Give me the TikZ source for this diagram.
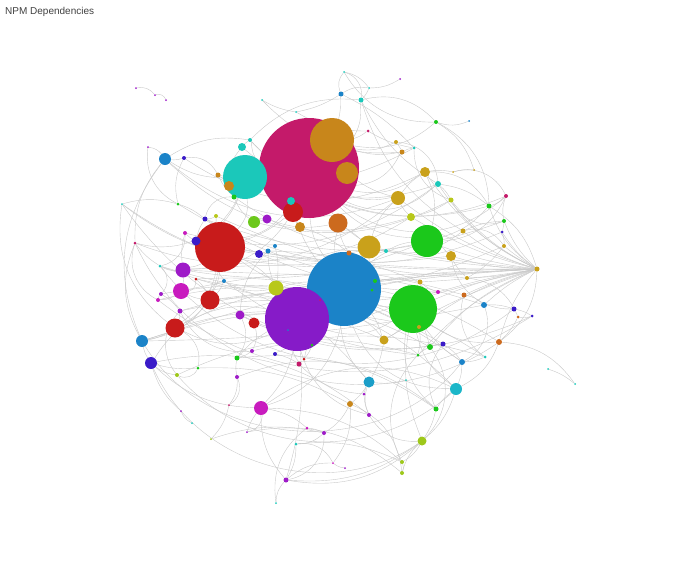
\documentclass[tikz,border=0pt]{standalone}
\usepackage{fontspec}
\setmainfont{Liberation Sans}
\usetikzlibrary{backgrounds}
\definecolor{npmpink}{HTML}{C41A6A}
\definecolor{npmochre}{HTML}{C8861B}
\definecolor{npmteal}{HTML}{1BC8BA}
\definecolor{npmred}{HTML}{C81B1B}
\definecolor{npmblue}{HTML}{1B83C8}
\definecolor{npmpurple}{HTML}{861BC8}
\definecolor{npmviolet}{HTML}{9E1BC8}
\definecolor{npmgreen}{HTML}{1BC81B}
\definecolor{npmgold}{HTML}{C9A11B}
\definecolor{npmbrown}{HTML}{CC6A1E}
\definecolor{npmlime}{HTML}{6CC81B}
\definecolor{npmolive}{HTML}{B8C81B}
\definecolor{npmmagenta}{HTML}{C81BBE}
\definecolor{npmindigo}{HTML}{3A1BC8}
\definecolor{npmcyan}{HTML}{1BB6C8}
\definecolor{npmsky}{HTML}{1B9EC8}
\definecolor{npmyg}{HTML}{9EC81B}
\tikzset{
  dot/.style={circle, fill=#1, draw=none, inner sep=0pt},
  link/.style={draw=black!21, line width=0.4pt},
  title/.style={font=\fontsize{10}{12}\selectfont, text=black!75, inner sep=0pt},
}

\begin{document}
\begin{tikzpicture}[x=1pt, y=-1pt]
  \useasboundingbox (0,0) rectangle (700,560);
  % Title
  \node[title, anchor=base west] (title) at (5,14) {NPM Dependencies};
  % Hubs
  \node[dot=npmpink, minimum size=100pt] (pink) at (309,168) {};
  \node[dot=npmochre, minimum size=44pt] (ochre) at (332,140) {};
  \node[dot=npmochre, minimum size=22pt] (ochreSide) at (347,173) {};
  \node[dot=npmteal, minimum size=44pt] (teal) at (245,177) {};
  \node[dot=npmred, minimum size=20pt] (redTop) at (293,212) {};
  \node[dot=npmbrown, minimum size=19pt] (brown) at (338,223) {};
  \node[dot=npmred, minimum size=50pt] (red) at (220,247) {};
  \node[dot=npmgold, minimum size=23pt] (gold) at (369,247) {};
  \node[dot=npmgreen, minimum size=32pt] (greenTop) at (427,241) {};
  \node[dot=npmblue, minimum size=74pt] (blue) at (344,289) {};
  \node[dot=npmpurple, minimum size=64pt] (violet) at (297,319) {};
  \node[dot=npmgreen, minimum size=48pt] (green) at (413,309) {};
  % Small packages
  \foreach \n/\x/\y/\col/\sz in {
    1/341/94/npmblue/5, 2/361/100/npmteal/5, 3/262/100/npmteal/2, 4/344/72/npmteal/2,
    5/369/88/npmteal/2, 6/436/122/npmgreen/4, 7/396/142/npmgold/4, 8/402/152/npmochre/5,
    9/414/148/npmteal/3, 10/368/131/npmpink/3, 11/250/140/npmteal/4, 12/296/112/npmteal/2,
    13/400/79/npmviolet/2, 14/218/175/npmochre/5, 15/234/197/npmgreen/5, 16/205/219/npmindigo/5,
    17/216/216/npmolive/4, 18/178/204/npmgreen/3, 19/135/243/npmpink/3, 20/185/233/npmmagenta/4,
    21/160/266/npmteal/3, 22/158/300/npmmagenta/4, 23/161/294/npmviolet/4, 24/180/311/npmviolet/5,
    25/224/281/npmblue/4, 26/196/241/npmindigo/9, 27/268/251/npmblue/5, 28/275/246/npmblue/4,
    29/237/358/npmgreen/5, 30/252/351/npmviolet/4, 31/275/354/npmindigo/4, 32/299/364/npmpink/5,
    33/177/375/npmyg/4, 34/237/377/npmviolet/4, 35/198/368/npmgreen/3, 36/196/279/npmred/3,
    37/304/359/npmred/3, 38/307/428/npmmagenta/3, 39/324/433/npmviolet/4, 40/369/415/npmviolet/4,
    41/364/394/npmviolet/3, 42/286/480/npmviolet/5, 43/402/462/npmyg/4, 44/402/473/npmyg/4,
    45/436/409/npmgreen/5, 46/418/355/npmgreen/3, 47/430/347/npmgreen/6, 48/443/344/npmindigo/5,
    49/462/362/npmblue/6, 50/350/404/npmochre/6, 51/489/206/npmgreen/5, 52/451/200/npmolive/5,
    53/438/184/npmteal/6, 54/463/231/npmgold/5, 55/451/256/npmgold/10, 56/420/282/npmgold/5,
    57/386/251/npmteal/4, 58/349/253/npmbrown/5, 59/438/292/npmmagenta/4, 60/464/295/npmbrown/5,
    61/467/278/npmgold/4, 62/484/305/npmblue/6, 63/514/309/npmindigo/5, 64/499/342/npmbrown/6,
    65/485/357/npmteal/3, 66/506/196/npmpink/4, 67/504/221/npmgreen/4, 68/504/246/npmgold/4,
    69/537/269/npmgold/5, 70/375/281/npmgreen/4, 71/419/327/npmgold/4, 72/184/158/npmindigo/4,
    73/122/204/npmteal/2, 74/155/95/npmviolet/2, 75/548/369/npmteal/2, 76/575/384/npmteal/2,
    77/411/217/npmolive/8, 78/425/172/npmgold/10, 79/296/444/npmteal/3, 80/276/503/npmteal/2,
    81/229/405/npmpink/2, 82/333/463/npmmagenta/2, 83/453/172/npmgold/2, 84/474/170/npmgold/2,
    85/502/232/npmindigo/3, 86/532/316/npmindigo/3, 87/518/317/npmbrown/3, 88/211/439/npmyg/2,
    89/148/147/npmviolet/2, 90/166/100/npmviolet/2, 91/398/198/npmgold/14, 92/369/382/npmsky/11,
    93/456/389/npmcyan/12, 94/422/441/npmyg/9, 95/261/408/npmmagenta/14, 96/384/340/npmgold/9,
    97/165/159/npmblue/12, 98/142/341/npmblue/12, 99/151/363/npmindigo/12, 100/240/315/npmviolet/9,
    101/254/323/npmred/11, 102/259/254/npmindigo/8, 103/242/147/npmteal/8, 104/291/201/npmteal/8,
    105/300/227/npmochre/10, 106/254/222/npmlime/12, 107/267/219/npmviolet/9, 108/229/186/npmochre/10,
    109/183/270/npmviolet/15, 110/181/291/npmmagenta/16, 111/210/300/npmred/19, 112/175/328/npmred/19,
    113/276/288/npmolive/15, 114/181/411/npmviolet/2, 115/192/423/npmteal/2, 116/247/432/npmviolet/2,
    117/345/468/npmviolet/2, 118/406/380/npmteal/2, 119/330/160/npmochre/2, 120/290/155/npmpink/2,
    121/360/318/npmblue/3, 122/372/290/npmgreen/3, 123/320/300/npmpink/2, 124/288/330/npmblue/2,
    125/312/345/npmgreen/3, 126/469/121/npmblue/2, 127/136/88/npmviolet/2}
    \node[dot=\col, minimum size=\sz pt] (s\n) at (\x,\y) {};
  % Dependencies
  \begin{scope}[on background layer]
    % fan into the right-hand package
    \foreach \dst/\bnd in {s55/8, s54/10, s61/5, s60/-5, s56/3, greenTop/6, green/-6, s62/-8,
      s68/4, s67/12, s53/15, s57/4, gold/2, s59/-3, s71/-10, s47/-14, blue/-2, s64/-12,
      s85/10, s91/10, s77/8, s51/18, s109/3, red/4, s26/6, s111/-2, s98/-8, s70/-4, s96/-6,
      s78/14, s52/12, s121/-3, s46/-12}
      \draw[link] (s69) to[bend left=\bnd] (\dst);
    % outer ring
    \foreach \src/\dst/\bnd in {s11/s2/25, s2/s6/30, s6/s51/30, s51/s69/20, s69/s64/25,
      s64/s93/20, s93/s94/15, s94/s42/25, s42/s95/20, s95/s99/20, s99/s98/10, s98/s19/25,
      s19/s97/20, s97/s11/20, s98/s49/-55, s99/s94/-50, s33/s93/-45, s19/s64/-50,
      s73/s112/-30, s97/s98/-30, s76/s64/-25, s75/s76/10, s74/s90/40, s127/s74/30,
      s4/s2/40, s1/s5/20, s1/s4/30, s4/s5/20, s5/s2/10, s13/s5/15, s12/s3/10, s12/s1/-10,
      s4/s6/-30, s126/s6/20, s80/s42/20, s21/s63/-45, s73/s86/-40, s22/s86/-35}
      \draw[link] (\src) to[bend left=\bnd] (\dst);
    % hubs
    \foreach \src/\dst/\bnd in {pink/red/20, pink/blue/-15, pink/greenTop/-20, pink/gold/-10,
      pink/teal/10, pink/s91/-15, pink/s78/-25, pink/s109/30, pink/s2/-20, pink/s1/-10,
      pink/s11/20, teal/red/25, teal/s97/15, teal/s26/20, red/blue/-15, red/violet/15,
      red/s112/20, red/s109/10, red/s111/10, blue/green/-10, blue/greenTop/15, blue/s96/10,
      blue/s92/-20, violet/green/-25, violet/s95/15, violet/s42/10, violet/s29/-10,
      violet/s112/25, green/s93/-20, green/s94/-15, green/s49/-10, greenTop/s78/-20,
      greenTop/s51/-15, greenTop/s55/10, gold/s91/15, gold/s58/5, gold/s57/-5, brown/gold/5,
      brown/blue/-10, redTop/red/10, redTop/blue/-10, ochre/s7/-20, ochre/s8/-15,
      ochreSide/s91/-10, s113/blue/10, s113/s27/10, blue/s59/-10, blue/s70/15,
      violet/s31/10, violet/s113/10, green/s46/10, green/s47/5, pink/s53/-35, pink/s66/-40,
      teal/s19/40, red/s98/35, violet/s99/-35, blue/s93/-35, green/s64/-20, greenTop/s66/-30,
      gold/s54/-25, ochre/s6/-25, pink/s8/-30, blue/s95/30, violet/s40/-30, green/s45/-30}
      \draw[link] (\src) to[bend left=\bnd] (\dst);
    % inner packages
    \foreach \src/\dst/\bnd in {s26/s20/10, s26/s16/10, s20/s109/-10, s109/s110/10,
      s110/s111/-10, s111/s112/10, s112/s98/10, s109/s21/15, s21/s19/10, s22/s23/20,
      s23/s24/10, s24/s112/10, s110/s22/15, s36/s111/10, s25/s111/10, s25/red/10,
      s27/s102/5, s28/s113/10, s102/s26/-15, s100/s101/10, s100/violet/5, s101/s30/20,
      s30/s29/10, s31/s32/10, s32/violet/10, s37/blue/10, s34/s29/10, s35/s99/10,
      s33/s99/15, s34/s81/20, s81/s88/15, s95/s38/15, s38/s39/10, s39/s79/20, s79/s42/15,
      s40/s41/10, s41/s92/10, s92/s50/10, s50/s39/15, s92/s40/-20, s50/s82/20, s82/s42/-20,
      s43/s44/20, s44/s94/15, s43/s94/-15, s45/s94/10, s45/s93/10, s46/s47/10, s47/s48/10,
      s48/s49/10, s49/s93/10, s96/green/-10, s96/s92/10, s71/green/10, s56/green/10,
      s59/s56/10, s60/s62/15, s62/s63/10, s63/s86/10, s86/s87/15, s87/s64/10, s65/s49/10,
      s61/s55/10, s54/s67/10, s67/s85/10, s85/s68/10, s68/s61/10, s66/s51/15, s66/s67/-15,
      s51/s53/-15, s53/s52/10, s52/s77/10, s77/s91/10, s91/s78/10, s78/s83/10, s83/s84/10,
      s84/s6/-20, s7/s8/10, s8/s9/10, s9/s10/10, s10/ochre/10, s57/greenTop/10, s70/gold/10,
      s70/s56/10, s58/brown/10, s104/redTop/10, s105/redTop/10, s105/s58/10, s106/s107/20,
      s106/s15/15, s107/brown/-15, s15/s14/10, s14/s108/10, s108/s103/20, s103/s11/10,
      s17/s16/15, s18/s16/10, s18/s72/20, s72/s97/10, s89/s97/20, s73/s18/15,
      s100/s27/20, s113/s25/20, s114/s99/15, s115/s114/20, s116/s95/10, s117/s82/15,
      s118/s92/10, s121/s96/10, s122/s70/10, s124/s100/10, s125/s37/10,
      s7/s53/40, s9/s52/-35, s78/s51/30, s83/s66/40, s52/s67/-40, s54/s68/35, s55/s63/-40,
      s61/s87/30, s60/s65/-35, s62/s49/40, s48/s45/-30, s47/s94/40, s46/s43/-35,
      s40/s94/-30, s50/s44/30, s39/s42/40, s38/s80/-30, s79/s82/35, s95/s116/40,
      s81/s34/-40, s35/s33/45, s29/s100/-30, s30/s24/35, s23/s21/-45, s22/s19/40,
      s110/s36/-40, s111/s25/35, s26/s17/-40, s16/s15/40, s14/s72/-35, s18/s89/35,
      s20/s21/40, s24/s33/-40, s112/s35/35}
      \draw[link] (\src) to[bend left=\bnd] (\dst);
    % long dependencies across the graph
    \foreach \src/\dst/\bnd in {s97/s91/-30, s21/s59/-15, s73/s77/-35, s26/s55/-10,
      s109/s60/10, s20/s53/-25, s16/s67/-20, s36/s71/15, s24/s65/25, s23/s48/20,
      s112/s96/20, s33/s46/20, s99/s40/25, s35/s50/15, s98/s71/15, s29/s45/20, s95/s43/20,
      s88/s39/15, s19/s91/-30, s73/s57/-25, s97/s77/-30, s14/s9/-20, s103/s53/-30,
      s11/s66/-35, s3/s8/-25, s12/s10/-15, s1/s9/10, s2/s54/-20, s22/s49/25,
      s110/s62/15, s21/s68/-20, s17/s61/-10, s24/s47/20, s111/s93/25, s98/s62/-5,
      s112/s64/30, s42/s94/-20, s34/s45/30, s116/s44/25, s79/s43/15, s95/s93/30,
      s109/greenTop/-15, s16/s85/-25, s72/s78/-30, s11/s51/-30, s2/s53/-15,
      s101/s48/-15, s30/s65/15, s32/s41/-20, s27/s56/10, s102/s59/-10, s106/s52/-20,
      s15/s57/-15, s18/s70/-10, s36/s92/20, s25/s46/-15}
      \draw[link] (\src) to[bend left=\bnd] (\dst);
  \end{scope}
\end{tikzpicture}
\end{document}
